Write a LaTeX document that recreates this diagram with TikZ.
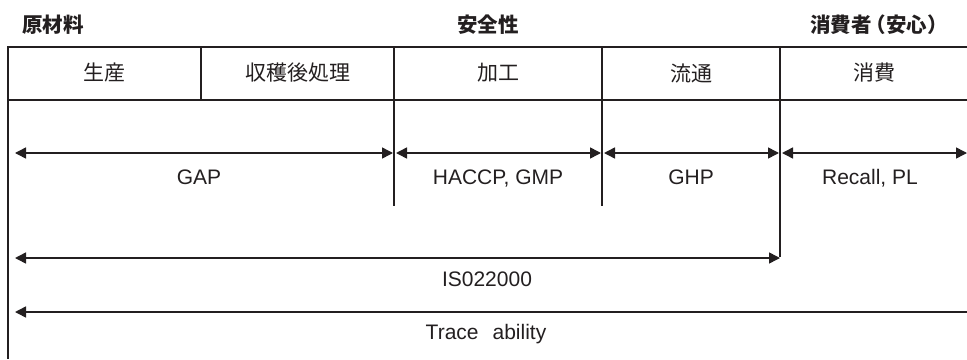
\documentclass[tikz,border=0pt]{standalone}
\usepackage{fontspec}
\setmainfont{Liberation Sans}
\newfontfamily\jp{Noto Sans CJK JP}
\usepackage{xcolor}
\usepackage{tikz}
\usetikzlibrary{arrows.meta, positioning}
\definecolor{ink}{RGB}{35,31,32}
\tikzset{
    frame/.style={draw=ink, line width=2.6pt},
    divider/.style={draw=ink, line width=2pt},
    cell/.style={text=ink, font=\jp\fontsize{21}{25}\selectfont, inner sep=0pt},
    group/.style={text=ink, font=\jp\bfseries\fontsize{20.5}{25}\selectfont, inner sep=0pt},
    lbl/.style={text=ink, font=\fontsize{21}{25}\selectfont, inner sep=0pt, anchor=base},
    span/.style={draw=ink, line width=1.5pt, {Triangle[length=11pt,width=11pt]}-{Triangle[length=11pt,width=11pt]}},
    lspan/.style={draw=ink, line width=1.5pt, {Triangle[length=11pt,width=11pt]}-}
}
\begin{document}
\begin{tikzpicture}[x=1pt, y=-1pt]
    \useasboundingbox (0,0) rectangle (967,359);

    % Table lines
    \draw[frame] (8,47) -- (967,47);
    \draw[frame] (8,100) -- (967,100);
    \draw[divider] (8,46) -- (8,359);
    \draw[divider] (201,47) -- (201,100);
    \draw[divider] (394,47) -- (394,206);
    \draw[divider] (602,47) -- (602,206);
    \draw[divider] (780,47) -- (780,257);

    % Group titles
    \node[group] (raw) at (53,25) {原材料};
    \node[group] (safety) at (488,25) {安全性};
    \node[group] (consumer) at (879,25) {消費者\kern-6pt（安心）};

    % Header cells
    \node[cell] (prod) at (104,73) {生産};
    \node[cell] (post) at (298,73) {収穫後処理};
    \node[cell] (proc) at (498,73) {加工};
    \node[cell] (dist) at (691,73) {流通};
    \node[cell] (cons) at (874,73) {消費};

    % Arrow ends
    \coordinate (gapL) at (15,153);
    \coordinate (gapR) at (393,153);
    \coordinate (haccpL) at (396,153);
    \coordinate (haccpR) at (601,153);
    \coordinate (ghpL) at (604,153);
    \coordinate (ghpR) at (779,153);
    \coordinate (recallL) at (782,153);
    \coordinate (recallR) at (967,153);
    \coordinate (isoL) at (15,258);
    \coordinate (isoR) at (780,258);
    \coordinate (traceL) at (15,312);
    \coordinate (traceR) at (967,312);

    % Spans
    \draw[span] (gapL) -- (gapR);
    \draw[span] (haccpL) -- (haccpR);
    \draw[span] (ghpL) -- (ghpR);
    \draw[span] (recallL) -- (recallR);
    \draw[span] (isoL) -- (isoR);
    \draw[lspan] (traceL) -- (traceR);

    % Span labels
    \node[lbl] (gap) at (199,184) {GAP};
    \node[lbl] (haccp) at (498,184) {HACCP, GMP};
    \node[lbl] (ghp) at (691,184) {GHP};
    \node[lbl] (recall) at (870,184) {Recall, PL};
    \node[lbl] (iso) at (487,286) {IS022000};
    \node[lbl] (trace) at (486,339) {Trace\hspace{14pt}ability};
\end{tikzpicture}
\end{document}
